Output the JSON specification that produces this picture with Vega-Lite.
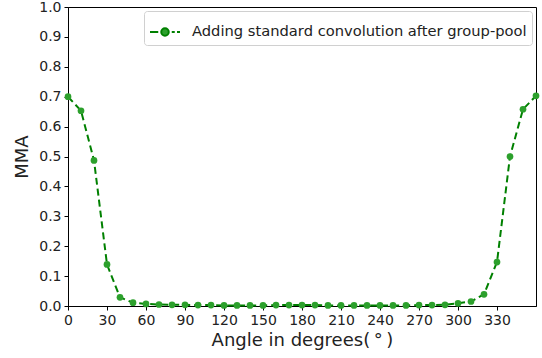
{
  "$schema": "https://vega.github.io/schema/vega-lite/v6.json",
  "width": 468,
  "height": 299,
  "autosize": {"type": "none"},
  "padding": {"left": 68, "top": 7, "right": 6, "bottom": 52},
  "background": "white",
  "config": {
    "font": "DejaVu Sans",
    "view": {"stroke": "black", "strokeWidth": 1},
    "axis": {
      "grid": false,
      "domainColor": "black",
      "tickColor": "black",
      "tickSize": 4,
      "labelColor": "#222",
      "labelFontSize": 14,
      "labelFont": "DejaVu Sans",
      "labelFlush": false,
      "titleFont": "DejaVu Sans",
      "titleFontSize": 18,
      "titleFontWeight": "normal",
      "titleColor": "#222",
      "labelPadding": 3
    }
  },
  "data": {
    "values": [
      {"angle": 0, "mma": 0.70, "series": "Adding standard convolution after group-pool"},
      {"angle": 10, "mma": 0.653, "series": "Adding standard convolution after group-pool"},
      {"angle": 20, "mma": 0.487, "series": "Adding standard convolution after group-pool"},
      {"angle": 30, "mma": 0.139, "series": "Adding standard convolution after group-pool"},
      {"angle": 40, "mma": 0.029, "series": "Adding standard convolution after group-pool"},
      {"angle": 50, "mma": 0.011, "series": "Adding standard convolution after group-pool"},
      {"angle": 60, "mma": 0.007, "series": "Adding standard convolution after group-pool"},
      {"angle": 70, "mma": 0.005, "series": "Adding standard convolution after group-pool"},
      {"angle": 80, "mma": 0.004, "series": "Adding standard convolution after group-pool"},
      {"angle": 90, "mma": 0.004, "series": "Adding standard convolution after group-pool"},
      {"angle": 100, "mma": 0.003, "series": "Adding standard convolution after group-pool"},
      {"angle": 110, "mma": 0.003, "series": "Adding standard convolution after group-pool"},
      {"angle": 120, "mma": 0.002, "series": "Adding standard convolution after group-pool"},
      {"angle": 130, "mma": 0.002, "series": "Adding standard convolution after group-pool"},
      {"angle": 140, "mma": 0.002, "series": "Adding standard convolution after group-pool"},
      {"angle": 150, "mma": 0.002, "series": "Adding standard convolution after group-pool"},
      {"angle": 160, "mma": 0.003, "series": "Adding standard convolution after group-pool"},
      {"angle": 170, "mma": 0.003, "series": "Adding standard convolution after group-pool"},
      {"angle": 180, "mma": 0.003, "series": "Adding standard convolution after group-pool"},
      {"angle": 190, "mma": 0.003, "series": "Adding standard convolution after group-pool"},
      {"angle": 200, "mma": 0.002, "series": "Adding standard convolution after group-pool"},
      {"angle": 210, "mma": 0.002, "series": "Adding standard convolution after group-pool"},
      {"angle": 220, "mma": 0.002, "series": "Adding standard convolution after group-pool"},
      {"angle": 230, "mma": 0.002, "series": "Adding standard convolution after group-pool"},
      {"angle": 240, "mma": 0.002, "series": "Adding standard convolution after group-pool"},
      {"angle": 250, "mma": 0.002, "series": "Adding standard convolution after group-pool"},
      {"angle": 260, "mma": 0.002, "series": "Adding standard convolution after group-pool"},
      {"angle": 270, "mma": 0.003, "series": "Adding standard convolution after group-pool"},
      {"angle": 280, "mma": 0.003, "series": "Adding standard convolution after group-pool"},
      {"angle": 290, "mma": 0.004, "series": "Adding standard convolution after group-pool"},
      {"angle": 300, "mma": 0.009, "series": "Adding standard convolution after group-pool"},
      {"angle": 310, "mma": 0.015, "series": "Adding standard convolution after group-pool"},
      {"angle": 320, "mma": 0.039, "series": "Adding standard convolution after group-pool"},
      {"angle": 330, "mma": 0.147, "series": "Adding standard convolution after group-pool"},
      {"angle": 340, "mma": 0.50, "series": "Adding standard convolution after group-pool"},
      {"angle": 350, "mma": 0.658, "series": "Adding standard convolution after group-pool"},
      {"angle": 360, "mma": 0.703, "series": "Adding standard convolution after group-pool"}
    ]
  },
  "encoding": {
    "x": {
      "field": "angle",
      "type": "quantitative",
      "scale": {"domain": [0, 360], "nice": false},
      "axis": {"values": [0, 30, 60, 90, 120, 150, 180, 210, 240, 270, 300, 330], "title": "Angle in degrees(\u2009°\u2009)", "titlePadding": 4}
    },
    "y": {
      "field": "mma",
      "type": "quantitative",
      "scale": {"domain": [0, 1], "nice": false},
      "axis": {"values": [0, 0.1, 0.2, 0.3, 0.4, 0.5, 0.6, 0.7, 0.8, 0.9, 1.0], "format": ".1f", "title": "MMA", "titlePadding": 7}
    }
  },
  "layer": [
    {
      "mark": {"type": "line", "strokeDash": [7, 4], "strokeWidth": 2, "clip": false},
      "encoding": {
        "color": {
          "field": "series",
          "type": "nominal",
          "scale": {"range": ["#008000"]},
          "legend": {
            "title": null,
            "orient": "top-right",
            "offset": 4,
            "fillColor": "white",
            "strokeColor": "#d0d0d0",
            "cornerRadius": 3,
            "padding": 5,
            "labelFontSize": 14.7,
            "labelFont": "DejaVu Sans",
            "labelColor": "#222",
            "labelLimit": 500,
            "labelOffset": 11,
            "symbolType": "M-1,0H-0.45M-0.25,0A0.25,0.25 0 1,1 0.25,0A0.25,0.25 0 1,1 -0.25,0M0.45,0H0.65M0.8,0H1",
            "symbolSize": 900,
            "symbolStrokeWidth": 2,
            "symbolFillColor": "#2ca02c",
            "encode": {"symbols": {"update": {"fill": {"value": "#2ca02c"}}}}
          }
        }
      }
    },
    {
      "mark": {"type": "point", "filled": true, "color": "#2ca02c", "size": 45, "opacity": 1, "clip": false}
    }
  ]
}
